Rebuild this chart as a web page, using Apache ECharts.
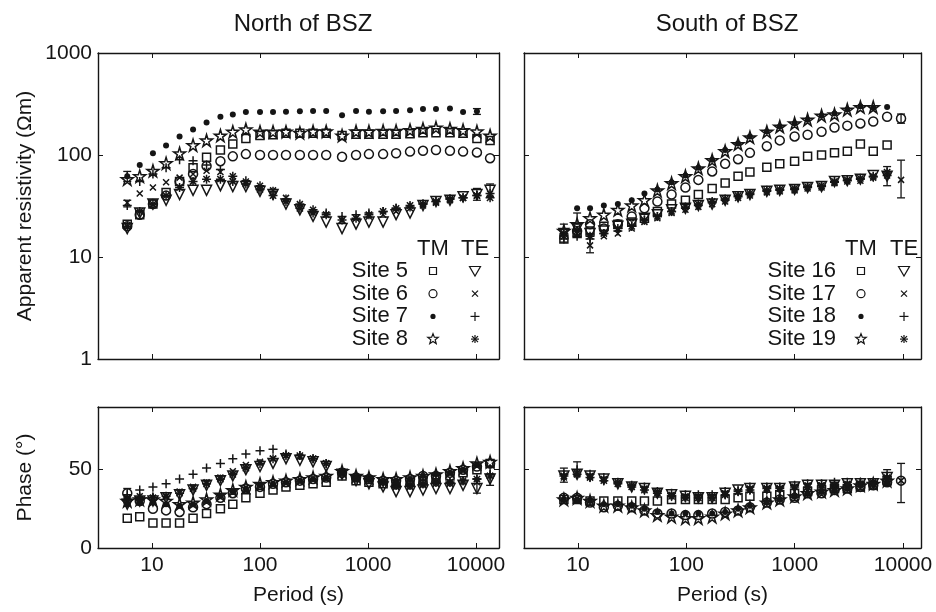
<!DOCTYPE html>
<html><head><meta charset="utf-8">
<script src="https://cdn.jsdelivr.net/npm/echarts@6/dist/echarts.min.js"></script>
<style>html,body{margin:0;padding:0;background:#fff}#c{width:936px;height:612px}</style>
</head><body><div id="c"></div>
<script>
// ---------------- DATA ----------------
const periodN = [5.9, 7.7, 10.2, 13.5, 18, 24, 32, 43, 56, 74, 100, 132, 174, 234, 310, 410, 575, 775, 1020, 1380, 1820, 2450, 3230, 4260, 5740, 7590, 10200, 13500];
const periodS = [7.4, 9.8, 12.9, 17.3, 23.3, 31.3, 41, 54, 73, 98, 129, 173, 228, 300, 386, 553, 728, 998, 1315, 1770, 2330, 3060, 4040, 5310, 7130, 9590];

// North of BSZ, apparent resistivity (Ohm m)
const rhoN_site5_TM = [21, 26, 33, 43, 55, 75, 95, 112, 128, 145, 155, 158, 163, 163, 163, 163, 155, 160, 160, 160, 160, 162, 165, 165, 165, 163, 145, 139];
const rhoN_site6_TM = [20, 26, 33, 40, 55, 65, 78, 87, 97, 102, 100, 100, 100, 100, 100, 100, 96, 100, 102, 102, 104, 108, 110, 112, 110, 108, 106, 93];
const rhoN_site7_TM = [62, 80, 104, 124, 152, 178, 208, 237, 250, 264, 264, 264, 266, 268, 270, 270, 245, 270, 265, 268, 270, 275, 282, 282, 285, 264, 268, null];
const rhoN_site8_TM = [58, 62, 70, 83, 104, 125, 139, 155, 169, 178, 169, 169, 169, 165, 170, 170, 155, 170, 170, 172, 172, 175, 180, 185, 180, 175, 170, 155];
const rhoN_site5_TE = [19, 27, 33, 36, 41, 45, 45, 50, 49, 49, 44, 41, 33, 29, 25, 22, 19, 21, 22, 22, 26, 27, 32, 35, 36, 39, 41, 45];
const rhoN_site6_TE = [34, 42, 48, 54, 60, 65, 70, 68, 62, 55, 50, 45, 38, 33, 29, 26, 23, 24, 25, 26, 28, 30, 32, 34, 36, 38, 40, 42];
const rhoN_site7_TE = [32, 55, 65, 75, 90, 88, 80, 72, 62, 56, 50, 44, 37, 33, 29, 27, 25, 26, 27, 28, 30, 31, 33, 35, 37, 38, 40, 42];
const rhoN_site8_TE = [20, 28, 33, 40, 48, 55, 58, 58, 55, 52, 46, 40, 35, 30, 27, 26, 23, 24, 26, 28, 30, 32, 33, 35, 37, 38, 40, 38];

// North of BSZ, phase (degrees)
const phN_site5_TM = [19, 20, 16, 16, 16, 19, 22, 25, 28, 32, 35, 37, 39, 40, 41, 42, 46, 43, 42, 41, 41, 42, 43, 44, 46, 48, 50, 54];
const phN_site6_TM = [35, 30, 25, 24, 23, 26, 28, 32, 35, 38, 39, 41, 42, 43, 44, 45, 48, 45, 44, 43, 43, 44, 46, 46, 48, 50, 52, 54];
const phN_site7_TM = [28, 29, 29, 28, 27, 28, 30, 33, 36, 38, 40, 41, 42, 43, 44, 45, 48, 45, 44, 43, 43, 44, 46, 47, 48, 50, 53, null];
const phN_site8_TM = [30, 31, 31, 30, 28, 29, 31, 34, 37, 39, 41, 42, 43, 44, 45, 46, 49, 46, 45, 44, 44, 45, 46, 47, 49, 51, 54, 55];
const phN_site5_TE = [28, 30, 30, 32, 34, 37, 40, 43, 46, 50, 52, 54, 57, 56, 55, 52, 47, 43, 41, 39, 36, 36, 37, 38, 38, 40, 38, 44];
const phN_site6_TE = [32, 33, 32, 33, 36, 39, 42, 45, 49, 53, 55, 57, 59, 58, 57, 54, 49, 45, 44, 42, 39, 39, 40, 41, 41, 42, 42, 46];
const phN_site7_TE = [34, 37, 39, 41, 44, 47, 51, 54, 57, 60, 62, 63, 60, 59, 57, 54, 49, 45, 44, 42, 40, 40, 41, 42, 42, 43, 44, 47];
const phN_site8_TE = [30, 31, 32, 33, 35, 38, 41, 44, 47, 51, 54, 57, 59, 59, 57, 54, 48, 45, 44, 42, 40, 40, 41, 42, 42, 43, 44, 46];

// South of BSZ, apparent resistivity (Ohm m)
const rhoS_site16_TM = [15, 17, 18, 20, 21, 22, 24, 28, 33, 36, 41, 47, 53, 62, 68, 76, 82, 87, 97, 100, 105, 109, 128, 109, 125, null];
const rhoS_site17_TM = [null, 18, 21, 19, 21, 25, 30, 35, 41, 48, 57, 69, 82, 91, 105, 122, 139, 152, 158, 169, 186, 194, 204, 213, 237, 228];
const rhoS_site18_TM = [null, 30, 30, 32, 33, 36, 42, 46, 54, 63, 75, 90, 112, 130, 152, 170, 190, 205, 222, 243, 255, 280, 300, 290, 295, null];
const rhoS_site19_TM = [18, 21, 24, 26, 29, 32, 36, 45, 53, 62, 74, 89, 109, 128, 149, 169, 190, 204, 222, 243, 250, 278, 295, 295, null, null];
const rhoS_site16_TE = [17, 19, 17, 18, 20, 21, 24, 26, 29, 30, 32, 33, 36, 39, 41, 44, 45, 46, 48, 49, 55, 56, 58, 63, 62, null];
const rhoS_site17_TE = [16, 17, 13, 16, 17, 19, 22, 24, 27, 29, 31, 33, 35, 38, 40, 43, 44, 45, 47, 48, 53, 55, 56, 60, 63, 57];
const rhoS_site18_TE = [15, 16, 15, 17, 18, 20, 23, 25, 28, 30, 32, 34, 36, 39, 41, 44, 45, 46, 48, 49, 54, 56, 58, 61, 63, null];
const rhoS_site19_TE = [17, 18, 16, 17, 19, 20, 23, 25, 28, 31, 33, 35, 37, 40, 42, 45, 46, 47, 49, 50, 55, 57, 59, 62, 68, null];

// South of BSZ, phase (degrees)
const phS_site16_TM = [31, 31, 30, 30, 30, 30, 30, 30, 31, 31, 31, 31, 31, 32, 33, 33, 34, 35, 36, 37, 38, 38, 39, 40, 43, null];
const phS_site17_TM = [32, 32, 29, 26, 27, 26, 24, 22, 22, 21, 21, 22, 23, 24, 26, 29, 31, 32, 35, 35, 37, 38, 39, 40, 42, 43];
const phS_site18_TM = [31, 31, 30, 28, 28, 27, 25, 23, 22, 22, 22, 22, 23, 25, 27, 29, 31, 33, 35, 36, 37, 38, 40, 41, 42, null];
const phS_site19_TM = [31, 32, 30, 27, 27, 26, 24, 21, 20, 19, 19, 20, 22, 24, 26, 29, 31, 33, 35, 36, 37, 38, 40, 41, 43, null];
const phS_site16_TE = [46, 47, 46, 44, 41, 39, 38, 35, 34, 33, 32, 32, 35, 37, 38, 38, 38, 39, 40, 40, 40, 41, 41, 41, 45, null];
const phS_site17_TE = [45, 48, 46, 44, 42, 40, 38, 36, 34, 33, 33, 33, 35, 36, 38, 38, 38, 39, 40, 40, 40, 41, 41, 42, 45, 43];
const phS_site18_TE = [47, 50, 47, 45, 42, 40, 39, 36, 35, 34, 34, 34, 36, 37, 39, 39, 39, 40, 41, 41, 42, 42, 42, 42, 46, null];
const phS_site19_TE = [46, 47, 45, 43, 41, 39, 37, 35, 33, 32, 32, 32, 34, 36, 37, 38, 38, 39, 39, 40, 40, 40, 41, 41, 44, null];

// Error bars: [period, low, high]
const errN_rho = [[5.9, 55, 69], [5.9, 31, 36], [10200, 250, 285], [10200, 36, 47], [13500, 39, 52]];
const errN_phase = [[5.9, 32, 38], [10200, 35, 44], [13500, 40, 52]];
const errS_rho = [[7.4, 14, 21], [9.8, 21, 27], [12.9, 11, 17], [7130, 50, 77], [9590, 38, 89], [9590, 205, 252]];
const errS_phase = [[7.4, 42, 51], [9.8, 46, 55], [7130, 40, 50], [9590, 29, 54]];

// Labels
const titles = ['North of BSZ', 'South of BSZ'];
const sitesN = ['Site 5', 'Site 6', 'Site 7', 'Site 8'];
const sitesS = ['Site 16', 'Site 17', 'Site 18', 'Site 19'];
const modeLabels = ['TM', 'TE'];
const rhoTicks = [1, 10, 100, 1000];
const phaseTicks = [0, 50];

// ---------------- STYLE ----------------
const FONT = '"Liberation Sans", Arial, Helvetica, sans-serif';
const INK = '#151515';
const STAR = 'path://M50,0L61,35L98,35L68,57L79,91L50,70L21,91L32,57L2,35L39,35Z';
const SYM = {
  square:   {symbol: 'rect', symbolSize: 8, fill: false},
  circle:   {symbol: 'circle', symbolSize: 9, fill: false},
  dot:      {symbol: 'circle', symbolSize: 6, fill: true},
  star:     {symbol: STAR, symbolSize: 12, fill: false},
  tri:      {symbol: 'triangle', symbolSize: 10, fill: false, rotate: 180},
  cross:    {symbol: 'path://M0,0L10,10M10,0L0,10', symbolSize: 6, fill: false},
  plus:     {symbol: 'path://M5,0L5,10M0,5L10,5', symbolSize: 9, fill: false},
  aster:    {symbol: 'path://M5,0L5,10M0,5L10,5M1.5,1.5L8.5,8.5M8.5,1.5L1.5,8.5', symbolSize: 9, fill: false}
};
const tmSyms = ['square', 'circle', 'dot', 'star'];
const teSyms = ['tri', 'cross', 'plus', 'aster'];

// grids: 0 TL, 1 TR, 2 BL, 3 BR
const G = [
  {left: 98, top: 53, width: 401, height: 306},
  {left: 524, top: 53, width: 397, height: 306},
  {left: 98, top: 407, width: 401, height: 141},
  {left: 524, top: 407, width: 397, height: 141}
];
const xRange = [[Math.pow(10, 0.5), Math.pow(10, 4.213)], [Math.pow(10, 0.501), Math.pow(10, 4.166)]];

function axLine() { return {show: true, onZero: false, lineStyle: {color: INK, width: 1.4}}; }
function axTick() { return {show: true, inside: true, length: 5, lineStyle: {color: INK, width: 1}}; }

const xAxes = [], yAxes = [];
G.forEach((g, gi) => {
  const side = gi % 2, bottomRow = gi >= 2;
  ['bottom', 'top'].forEach(pos => {
    xAxes.push({
      type: 'log', logBase: 10, gridIndex: gi, position: pos,
      min: xRange[side][0], max: xRange[side][1],
      axisLine: axLine(), axisTick: axTick(), splitLine: {show: false}, minorTick: {show: false},
      axisLabel: {show: pos === 'bottom' && bottomRow, showMinLabel: false, showMaxLabel: false,
        color: INK, fontSize: 21, fontFamily: FONT, margin: 7,
        formatter: v => String(Math.round(v))},
      name: (pos === 'bottom' && bottomRow) ? 'Period (s)' : '',
      nameLocation: 'middle', nameGap: 37,
      nameTextStyle: {color: INK, fontSize: 21, fontFamily: FONT}
    });
  });
  ['left', 'right'].forEach(pos => {
    const isLeftLabel = pos === 'left' && side === 0;
    const base = {
      gridIndex: gi, position: pos,
      axisLine: axLine(), axisTick: axTick(), splitLine: {show: false}, minorTick: {show: false},
      axisLabel: {show: isLeftLabel, color: INK, fontSize: 21, fontFamily: FONT, margin: 6,
        formatter: v => String(Math.round(v))},
      nameLocation: 'middle', nameGap: 62,
      nameTextStyle: {color: INK, fontSize: 21, fontFamily: FONT}
    };
    if (!bottomRow) {
      Object.assign(base, {type: 'log', logBase: 10, min: rhoTicks[0], max: rhoTicks[rhoTicks.length - 1],
        name: isLeftLabel ? 'Apparent resistivity (\u03A9m)' : ''});
    } else {
      Object.assign(base, {type: 'value', min: phaseTicks[0], max: 90, interval: phaseTicks[1] - phaseTicks[0],
        name: isLeftLabel ? 'Phase (\u00B0)' : ''});
      base.axisLabel.showMaxLabel = false;
    }
    yAxes.push(base);
  });
});

const series = [];
function addScatter(name, periods, vals, symKey, gi) {
  const s = SYM[symKey];
  const data = [];
  periods.forEach((p, i) => { if (vals[i] != null) data.push([p, vals[i]]); });
  series.push({
    name, type: 'scatter', xAxisIndex: gi * 2, yAxisIndex: gi * 2, data,
    symbol: s.symbol, symbolSize: s.symbolSize, symbolRotate: s.rotate || 0,
    itemStyle: {color: s.fill ? INK : 'rgba(255,255,255,0)', borderColor: INK, borderWidth: s.fill ? 0 : 1.5, opacity: 1},
    emphasis: {disabled: true}, silent: true, z: 3
  });
}
function addErr(name, arr, gi) {
  series.push({
    name, type: 'custom', xAxisIndex: gi * 2, yAxisIndex: gi * 2, data: arr,
    encode: {x: 0, y: [1, 2]}, silent: true, z: 2,
    renderItem: (params, api) => {
      const lo = api.coord([api.value(0), api.value(1)]);
      const hi = api.coord([api.value(0), api.value(2)]);
      const w = 4;
      const st = {stroke: INK, lineWidth: 1.3};
      return {type: 'group', children: [
        {type: 'line', shape: {x1: lo[0], y1: lo[1], x2: hi[0], y2: hi[1]}, style: st},
        {type: 'line', shape: {x1: lo[0] - w, y1: lo[1], x2: lo[0] + w, y2: lo[1]}, style: st},
        {type: 'line', shape: {x1: hi[0] - w, y1: hi[1], x2: hi[0] + w, y2: hi[1]}, style: st}
      ]};
    }
  });
}

const rhoNTM = [rhoN_site5_TM, rhoN_site6_TM, rhoN_site7_TM, rhoN_site8_TM];
const rhoNTE = [rhoN_site5_TE, rhoN_site6_TE, rhoN_site7_TE, rhoN_site8_TE];
const phNTM = [phN_site5_TM, phN_site6_TM, phN_site7_TM, phN_site8_TM];
const phNTE = [phN_site5_TE, phN_site6_TE, phN_site7_TE, phN_site8_TE];
const rhoSTM = [rhoS_site16_TM, rhoS_site17_TM, rhoS_site18_TM, rhoS_site19_TM];
const rhoSTE = [rhoS_site16_TE, rhoS_site17_TE, rhoS_site18_TE, rhoS_site19_TE];
const phSTM = [phS_site16_TM, phS_site17_TM, phS_site18_TM, phS_site19_TM];
const phSTE = [phS_site16_TE, phS_site17_TE, phS_site18_TE, phS_site19_TE];

addErr('errN_rho', errN_rho, 0);
addErr('errS_rho', errS_rho, 1);
addErr('errN_phase', errN_phase, 2);
addErr('errS_phase', errS_phase, 3);
for (let k = 0; k < 4; k++) {
  addScatter(sitesN[k] + ' TE', periodN, rhoNTE[k], teSyms[k], 0);
  addScatter(sitesS[k] + ' TE', periodS, rhoSTE[k], teSyms[k], 1);
  addScatter(sitesN[k] + ' TE phase', periodN, phNTE[k], teSyms[k], 2);
  addScatter(sitesS[k] + ' TE phase', periodS, phSTE[k], teSyms[k], 3);
}
for (let k = 0; k < 4; k++) {
  addScatter(sitesN[k] + ' TM', periodN, rhoNTM[k], tmSyms[k], 0);
  addScatter(sitesS[k] + ' TM', periodS, rhoSTM[k], tmSyms[k], 1);
  addScatter(sitesN[k] + ' TM phase', periodN, phNTM[k], tmSyms[k], 2);
  addScatter(sitesS[k] + ' TM phase', periodS, phSTM[k], tmSyms[k], 3);
}

// ---------------- LEGEND (graphic) ----------------
function marker(kind, cx, cy) {
  const st = {fill: 'none', stroke: INK, lineWidth: 1.2};
  switch (kind) {
    case 'square': return {type: 'rect', shape: {x: cx - 3.5, y: cy - 3.5, width: 7, height: 7}, style: st};
    case 'circle': return {type: 'circle', shape: {cx, cy, r: 4}, style: st};
    case 'dot': return {type: 'circle', shape: {cx, cy, r: 2.6}, style: {fill: INK}};
    case 'star': {
      const pts = [];
      for (let i = 0; i < 10; i++) {
        const r = i % 2 ? 2.3 : 5.5, a = -Math.PI / 2 + i * Math.PI / 5;
        pts.push([cx + r * Math.cos(a), cy + r * Math.sin(a)]);
      }
      return {type: 'polygon', shape: {points: pts}, style: st};
    }
    case 'tri': return {type: 'polygon', shape: {points: [[cx - 5.5, cy - 4.5], [cx + 5.5, cy - 4.5], [cx, cy + 5]]}, style: st};
    case 'cross': return {type: 'group', children: [
      {type: 'line', shape: {x1: cx - 3, y1: cy - 3, x2: cx + 3, y2: cy + 3}, style: st},
      {type: 'line', shape: {x1: cx + 3, y1: cy - 3, x2: cx - 3, y2: cy + 3}, style: st}]};
    case 'plus': return {type: 'group', children: [
      {type: 'line', shape: {x1: cx - 4.5, y1: cy, x2: cx + 4.5, y2: cy}, style: st},
      {type: 'line', shape: {x1: cx, y1: cy - 4.5, x2: cx, y2: cy + 4.5}, style: st}]};
    case 'aster': return {type: 'group', children: [
      {type: 'line', shape: {x1: cx - 4, y1: cy, x2: cx + 4, y2: cy}, style: st},
      {type: 'line', shape: {x1: cx, y1: cy - 4, x2: cx, y2: cy + 4}, style: st},
      {type: 'line', shape: {x1: cx - 3, y1: cy - 3, x2: cx + 3, y2: cy + 3}, style: st},
      {type: 'line', shape: {x1: cx + 3, y1: cy - 3, x2: cx - 3, y2: cy + 3}, style: st}]};
  }
}
const graphics = [];
function legendBlock(sites, textRight, tmX, teX, headY, rowY0, rowDY) {
  graphics.push({type: 'text', x: tmX, y: headY, style: {text: modeLabels[0], fill: INK, font: '22px ' + FONT, textAlign: 'center', textVerticalAlign: 'middle'}});
  graphics.push({type: 'text', x: teX, y: headY, style: {text: modeLabels[1], fill: INK, font: '22px ' + FONT, textAlign: 'center', textVerticalAlign: 'middle'}});
  sites.forEach((s, k) => {
    const y = rowY0 + k * rowDY;
    graphics.push({type: 'text', x: textRight, y, style: {text: s, fill: INK, font: '22px ' + FONT, textAlign: 'right', textVerticalAlign: 'middle'}});
    graphics.push(marker(tmSyms[k], tmX, y));
    graphics.push(marker(teSyms[k], teX, y));
  });
}
legendBlock(sitesN, 408, 433, 475, 249, 271, 22.7);
legendBlock(sitesS, 836, 861, 904, 249, 271, 22.7);

const option = {
  backgroundColor: '#fff',
  animation: false,
  title: [
    {text: titles[0], left: 298, top: 7, textAlign: 'center', textStyle: {color: INK, fontSize: 24, fontWeight: 'normal', fontFamily: FONT}},
    {text: titles[1], left: 722, top: 7, textAlign: 'center', textStyle: {color: INK, fontSize: 24, fontWeight: 'normal', fontFamily: FONT}}
  ],
  grid: G.map(g => Object.assign({containLabel: false, show: false}, g)),
  xAxis: xAxes,
  yAxis: yAxes,
  series,
  graphic: graphics
};
const chart = echarts.init(document.getElementById('c'), null, {renderer: 'canvas'});
chart.setOption(option);
</script>
</body></html>
